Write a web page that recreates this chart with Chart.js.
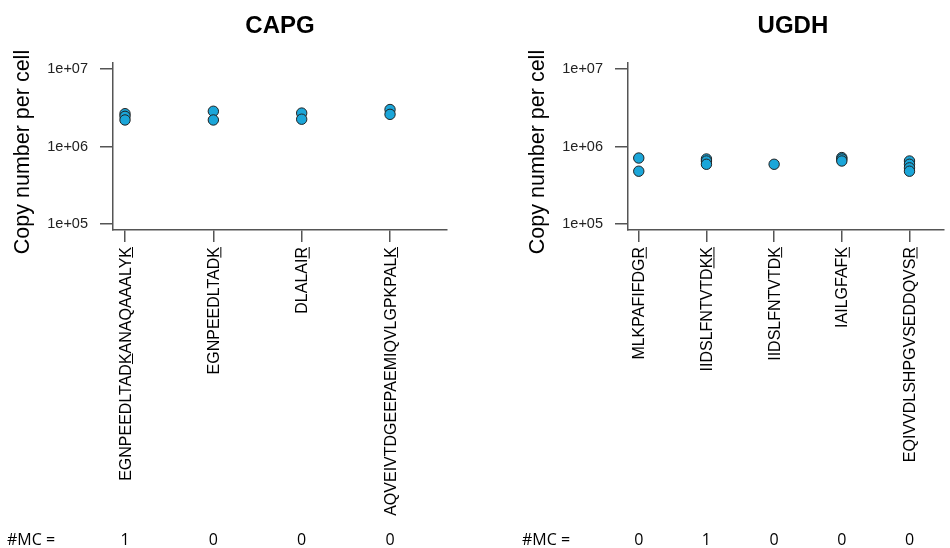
<!DOCTYPE html>
<html>
<head>
<meta charset="utf-8">
<script src="https://cdn.jsdelivr.net/npm/chart.js@4"></script>
<style>
  html, body { margin: 0; padding: 0; background: #fff; }
  #wrap { position: relative; width: 950px; height: 548px; overflow: hidden; }
  canvas { position: absolute; top: 0; }
</style>
</head>
<body>
<div id="wrap">
  <canvas id="capg" width="475" height="548" style="left:0px"></canvas>
  <canvas id="ugdh" width="435" height="548" style="left:515px"></canvas>
</div>
<script>
// CAPG peptides
const capgPeptides = ['EGNPEEDLTADKANAQAAALYK', 'EGNPEEDLTADK', 'DLALAIR', 'AQVEIVTDGEEPAEMIQVLGPKPALK']
const capgUnderlined = [[11, 21], [11], [6], [25]]
const capgMC = [1, 0, 0, 0]
const capgValues = [
	[2.65e6, 2.45e6, 2.2e6],
	[2.85e6, 2.2e6],
	[2.7e6, 2.25e6],
	[3.0e6, 2.6e6]
]

// UGDH peptides
const ugdhPeptides = ['MLKPAFIFDGR', 'IIDSLFNTVTDKK', 'IIDSLFNTVTDK', 'IAILGFAFK', 'EQIVVDLSHPGVSEDDQVSR']
const ugdhUnderlined = [[10], [11, 12], [11], [8], [19]]
const ugdhMC = [0, 1, 0, 0, 0]
const ugdhValues = [
	[7.1e5, 4.8e5],
	[6.9e5, 6.5e5, 5.9e5],
	[5.9e5],
	[7.2e5, 6.9e5, 6.5e5],
	[6.5e5, 5.9e5, 5.3e5, 4.8e5]
]

const yTicks = [1e5, 1e6, 1e7]

const SANS = '"Liberation Sans", Arial, Helvetica, sans-serif'
const axisColor = '#555'

function fmtExp(v) {
	return v.toExponential().replace(/e\+(\d)$/, 'e+0$1')
}

function makeChart(id, title, peptides, underlined, mc, values, xMin, xMax, padRight, titleShift) {
	let points = []
	values.forEach((vals, i) => vals.forEach(v => points.push({ x: i + 1, y: v })))

	let extras = {
		id: 'extras',
		afterDraw(chart) {
			let ctx = chart.ctx
			let area = chart.chartArea
			let xs = chart.scales.x
			ctx.save()
			ctx.fillStyle = '#000'

			// title
			ctx.font = 'bold 24px ' + SANS
			ctx.textAlign = 'center'
			ctx.textBaseline = 'middle'
			ctx.fillText(title, (area.left + area.right) / 2 + titleShift, 26)

			// y axis title
			ctx.save()
			ctx.translate(23, 152)
			ctx.rotate(-Math.PI / 2)
			ctx.font = '21.5px ' + SANS
			ctx.fillText('Copy number per cell', 0, 0)
			ctx.restore()

			// peptide labels, rotated, with underlined cleavage sites
			ctx.font = '16px ' + SANS
			ctx.strokeStyle = '#000'
			ctx.lineWidth = 1
			peptides.forEach((p, i) => {
				let px = xs.getPixelForValue(i + 1)
				let w = ctx.measureText(p).width
				ctx.save()
				ctx.translate(px, 247)
				ctx.rotate(-Math.PI / 2)
				ctx.textAlign = 'right'
				ctx.textBaseline = 'alphabetic'
				ctx.fillText(p, 0, 5.5)
				for (let k of underlined[i]) {
					let x0 = -w + ctx.measureText(p.slice(0, k)).width
					let cw = ctx.measureText(p[k]).width
					ctx.beginPath()
					ctx.moveTo(x0, 7.5)
					ctx.lineTo(x0 + cw, 7.5)
					ctx.stroke()
				}
				ctx.restore()
			})

			// missed cleavages row
			ctx.font = '16px "Open Sans", ' + SANS
			ctx.textBaseline = 'middle'
			ctx.textAlign = 'left'
			ctx.fillText('#MC =', area.left - 106, 540)
			ctx.textAlign = 'center'
			mc.forEach((m, i) => ctx.fillText(String(m), xs.getPixelForValue(i + 1), 540))
			ctx.restore()
		}
	}

	return new Chart(document.getElementById(id), {
		type: 'scatter',
		data: {
			datasets: [{
				data: points,
				backgroundColor: '#1ba6d9',
				borderColor: '#222',
				borderWidth: 1,
				pointRadius: 5.2,
				pointHoverRadius: 5.2
			}]
		},
		options: {
			responsive: false,
			animation: false,
			events: [],
			layout: { padding: { top: 63, right: padRight, bottom: 0, left: 0 } },
			plugins: { legend: { display: false }, tooltip: { enabled: false }, title: { display: false } },
			scales: {
				x: {
					type: 'linear',
					min: xMin,
					max: xMax,
					afterBuildTicks: s => { s.ticks = peptides.map((p, i) => ({ value: i + 1 })) },
					afterFit: s => { s.height = 318 },
					ticks: { display: false },
					grid: { display: true, drawOnChartArea: false, drawTicks: true, tickLength: 12, color: axisColor, lineWidth: 1.5 },
					border: { display: true, color: axisColor, width: 1.5 }
				},
				y: {
					type: 'logarithmic',
					min: 8.37e4,
					max: 1.195e7,
					afterBuildTicks: s => { s.ticks = yTicks.map(v => ({ value: v })) },
					afterFit: s => { s.width = 113 },
					ticks: {
						padding: 12,
						color: '#222',
						font: { family: SANS, size: 14.5 },
						callback: v => fmtExp(v)
					},
					grid: { display: true, drawOnChartArea: false, drawTicks: true, tickLength: 13, color: axisColor, lineWidth: 1.5 },
					border: { display: true, color: axisColor, width: 1.5 }
				}
			}
		},
		plugins: [extras]
	})
}

makeChart('capg', 'CAPG', capgPeptides, capgUnderlined, capgMC, capgValues, 0.864, 4.645, 28, 0)
makeChart('ugdh', 'UGDH', ugdhPeptides, ugdhUnderlined, ugdhMC, ugdhValues, 0.841, 5.507, 0, 7)
</script>
</body>
</html>
